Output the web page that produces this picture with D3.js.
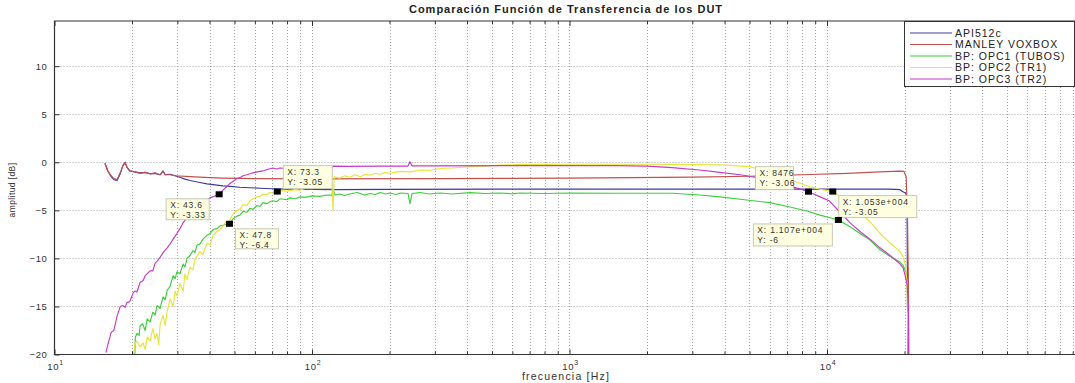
<!DOCTYPE html>
<html>
<head>
<meta charset="utf-8">
<script src="https://cdn.jsdelivr.net/npm/d3@7"></script>
<style>
  body { margin: 0; background: #fff; }
  text { font-family: "Liberation Sans", Arial, sans-serif; }
</style>
</head>
<body>
<svg id="chart" width="1075" height="383"></svg>
<script>
// --- data (frequency [Hz], amplitude [dB]) ---
const seriesNames = ['API512c', 'MANLEY VOXBOX', 'BP: OPC1 (TUBOS)', 'BP: OPC2 (TR1)', 'BP: OPC3 (TR2)'];
const seriesColors = ['#3a3a9e', '#c4504e', '#3ccf3c', '#e6e63a', '#c63cc6'];

const api512c = [[15.7,-0.1],[16.1,-0.9],[16.6,-1.5],[17.0,-1.8],[17.5,-1.9],[18.0,-1.2],[18.4,-0.4],[18.8,0],[19.1,-0.5],
  [19.6,-0.9],[20.5,-1.0],[21.5,-1.1],[22.5,-1.05],[23.5,-1.2],[24.6,-1.15],[25.7,-1.3],[26.4,-0.9],[26.9,-1.3],[28.1,-1.25],
  [29.4,-1.4],[30.7,-1.55],[32.1,-1.75],[33.6,-1.9],[35.1,-2.0],[36.7,-2.1],[39.1,-2.25],[42.0,-2.35],[45.1,-2.45],[48,-2.5],
  [52.5,-2.6],[57.4,-2.65],[62.8,-2.7],[70,-2.75],[80,-2.8],[100,-2.82],[120,-2.85],[200,-2.82],[500,-2.8],[1000,-2.8],
  [3000,-2.8],[8000,-2.8],[12000,-2.8],[17500,-2.8],[19200,-2.85],[19800,-3.1],[20200,-3.2],[20450,-3.6],[20600,-21]];

const manley = [[15.7,-0.1],[16.1,-0.9],[16.6,-1.4],[17.0,-1.7],[17.5,-1.8],[18.0,-1.1],[18.4,-0.4],[18.8,0],[19.1,-0.5],
  [19.6,-0.9],[20.5,-1.0],[21.5,-1.15],[22.5,-1.05],[23.5,-1.2],[24.6,-1.1],[25.7,-1.3],[26.4,-0.95],[26.9,-1.3],[28.1,-1.3],
  [29.4,-1.4],[33.6,-1.5],[40,-1.6],[45,-1.65],[60,-1.7],[100,-1.72],[300,-1.7],[1000,-1.65],[3000,-1.55],[5000,-1.45],
  [8000,-1.3],[12000,-1.15],[16000,-1.0],[19200,-0.92],[19900,-0.95],[20300,-1.5],[20550,-6],[20700,-12],[20800,-21]];

const opc1 = [[20.5,-20.3],[20.6,-18.2],[20.9,-17.8],[21.3,-18.0],[21.5,-17.0],[22.0,-16.8],[22.5,-17.5],[22.9,-16.3],
  [23.5,-16.6],[24.1,-15.6],[24.6,-15.9],[25.0,-14.9],[25.7,-15.2],[26.4,-14.0],[26.9,-14.3],[27.4,-13.3],[28.1,-12.9],
  [28.9,-11.8],[29.4,-12.1],[29.9,-11.4],[30.7,-11.6],[31.6,-10.6],[32.1,-10.9],[32.7,-10.0],[33.6,-9.7],[34.5,-9.2],
  [35.1,-9.4],[35.8,-8.6],[36.7,-8.5],[37.7,-8.0],[39.1,-7.6],[40.2,-7.4],[41.3,-7.0],[42.8,-6.9],[44,-6.6],[45.9,-6.5],
  [47.8,-6.4],[49.3,-5.9],[51.1,-5.6],[52.5,-5.5],[54,-5.1],[55.9,-5.2],[57.4,-4.8],[59,-4.9],[61.1,-4.5],[62.8,-4.6],
  [64.5,-4.2],[66.9,-4.3],[68.7,-4.1],[70.5,-4.0],[73,-4.1],[75,-3.8],[80,-3.9],[82,-3.7],[86,-3.8],[90,-3.6],[94,-3.65],
  [100,-3.5],[107,-3.55],[114,-3.4],[119.5,-3.45],[120.7,-2.8],[122.8,-3.4],[128,-3.3],[134,-3.45],[140,-3.3],[150,-3.15],
  [160,-3.4],[168,-3.25],[176,-3.35],[184,-3.15],[193,-3.3],[201,-3.2],[212,-3.35],[220,-3.2],[236,-3.25],[240,-4.3],
  [244.6,-3.25],[263,-3.15],[285,-3.3],[314,-3.2],[350,-3.3],[411,-3.15],[470,-3.25],[537,-3.2],[600,-3.28],
  [642,-3.2],[800,-3.25],[1000,-3.2],[1500,-3.22],[2520,-3.22],[3200,-3.4],[3840,-3.6],[4600,-3.85],[6000,-4.2],[7180,-4.65],
  [8430,-5.1],[9400,-5.5],[11070,-6.0],[12300,-6.7],[13430,-7.4],[14690,-8.1],[16070,-9.1],[17580,-9.8],[18400,-10.1],
  [19230,-10.4],[19800,-10.8],[20300,-11.5],[20500,-12.5],[20650,-21]];

const opc2 = [[20.2,-20.3],[20.5,-19.0],[20.9,-18.6],[21.5,-19.2],[22.1,-18.8],[22.5,-19.5],[22.9,-18.2],[23.5,-18.6],
  [24.1,-17.3],[24.6,-18.4],[25.0,-17.8],[25.4,-19.0],[25.7,-16.9],[26.4,-15.9],[26.9,-17.0],[27.4,-15.5],[28.1,-14.2],
  [28.9,-15.0],[29.4,-13.4],[29.9,-13.9],[30.7,-12.6],[31.6,-13.4],[32.1,-11.6],[32.7,-12.2],[33.6,-10.9],[34.5,-11.2],
  [35.1,-10.1],[36.7,-9.3],[37.7,-9.6],[39.1,-8.4],[40.2,-8.6],[41.3,-7.6],[42.8,-7.2],[44,-7.0],[45.9,-6.3],[47.8,-6.1],
  [49.3,-5.4],[51.1,-5.0],[52.5,-4.9],[54,-4.4],[55.9,-4.5],[57.4,-4.0],[59,-3.8],[61.1,-3.6],[62.8,-3.55],[64.5,-3.3],
  [66.9,-3.35],[68.7,-3.15],[70.5,-3.2],[73.3,-3.05],[77,-2.95],[80,-3.0],[86,-2.85],[90,-2.9],[94,-2.7],[100,-2.75],
  [107,-2.5],[114,-2.45],[119.5,-2.3],[120.7,-5.0],[122,-1.5],[128,-1.65],[134,-1.4],[140,-1.55],[147,-1.3],[154,-1.5],
  [161,-1.25],[168,-1.35],[176,-1.15],[184,-1.25],[192,-1.05],[201,-1.15],[220,-0.95],[240,-1.0],[263,-0.8],[285,-0.85],
  [314,-0.65],[350,-0.6],[411,-0.45],[470,-0.4],[537,-0.3],[642,-0.25],[1000,-0.2],[2000,-0.2],[3200,-0.25],
  [4000,-0.3],[5000,-0.45],[6000,-1.0],[7180,-1.8],[8430,-2.5],[9400,-2.8],[10530,-3.05],[12300,-4.3],[13430,-5.2],
  [14690,-6.2],[16070,-7.4],[17580,-8.4],[19230,-9.3],[19800,-9.9],[20200,-10.8],[20500,-13],[20700,-21]];

const opc3 = [[15.85,-19.8],[16.1,-19.0],[16.6,-17.7],[17.0,-17.5],[17.5,-16.0],[18.0,-15.0],[18.4,-14.9],[18.8,-15.1],
  [19.1,-14.6],[19.6,-14.5],[20.2,-13.6],[20.5,-13.4],[20.9,-13.5],[21.5,-12.5],[22.1,-12.3],[22.5,-11.8],[23.5,-11.3],
  [24.1,-11.3],[24.6,-10.5],[25.0,-10.3],[25.7,-9.9],[26.4,-9.4],[27.4,-8.9],[28.1,-8.5],[28.9,-8.0],[29.9,-7.4],
  [30.7,-6.9],[31.6,-6.3],[32.7,-5.7],[33.6,-5.2],[35.1,-4.7],[36.7,-4.3],[38.4,-4.0],[40.2,-3.7],[42,-3.5],[43.6,-3.33],
  [45.1,-2.9],[46.8,-2.5],[48,-2.2],[49.3,-2.0],[51.1,-1.7],[52.5,-1.6],[54,-1.4],[55.9,-1.3],[57.4,-1.2],[59,-1.1],
  [61.1,-1.0],[64.5,-0.9],[66.9,-0.75],[70.5,-0.6],[73,-0.7],[75,-0.6],[80,-0.65],[90,-0.6],[100,-0.62],[114,-0.6],
  [119.6,-0.58],[120.7,-0.4],[140,-0.42],[184,-0.4],[236,-0.4],[240,0.05],[244.6,-0.38],[314,-0.38],[537,-0.35],
  [1000,-0.35],[1500,-0.35],[2000,-0.4],[2500,-0.55],[3200,-0.8],[3840,-1.05],[4600,-1.3],[5000,-1.45],[6000,-1.85],
  [7180,-2.45],[8476,-3.06],[9400,-3.6],[10180,-4.0],[11240,-5.2],[12300,-6.3],[13430,-7.2],[14690,-8.0],[16070,-8.9],
  [17580,-9.7],[19230,-10.6],[19760,-11.0],[20120,-11.8],[20500,-12.8],[20600,-14.2],[20650,-15.6],[20700,-14.8],[20750,-21]];

const seriesData = [api512c, manley, opc1, opc2, opc3];

// data tips
const tipFreq = [43.6, 73.3, 47.8, 8476, 10530, 11070];
const tipAmp = [-3.33, -3.05, -6.4, -3.06, -3.05, -6];
const tipXText = ['43.6', '73.3', '47.8', '8476', '1.053e+004', '1.107e+004'];
const tipYText = ['-3.33', '-3.05', '-6.4', '-3.06', '-3.05', '-6'];

const yTicks = [-20, -15, -10, -5, 0, 5, 10];
const xDecades = [10, 100, 1000, 10000];

// --- layout ---
const svg = d3.select('#chart');
svg.append('rect').attr('width', 1075).attr('height', 383).attr('fill', '#fff');

const plotLeft = 54.5, plotTop = 21, plotBottom = 354.5;
const x = d3.scaleLog().domain([10, 1e5]).range([plotLeft, 1084.5]);
const y = d3.scaleLinear().domain([-20, 14.7]).range([plotBottom, plotTop]);

const xMinor = [];
[10, 100, 1000, 10000].forEach(function(d) {
  for (let k = 2; k <= 9; k++) xMinor.push(d * k);
});

// grid
const grid = svg.append('g').attr('stroke', '#999').attr('stroke-dasharray', '1,2').attr('stroke-width', 0.9);
grid.selectAll('.gx').data(xDecades.slice(1).concat(xMinor)).enter().append('line')
  .attr('x1', d => Math.round(x(d)) + 0.5).attr('x2', d => Math.round(x(d)) + 0.5)
  .attr('y1', plotTop).attr('y2', plotBottom);
grid.selectAll('.gy').data(yTicks.slice(1)).enter().append('line')
  .attr('x1', plotLeft).attr('x2', 1075)
  .attr('y1', d => Math.round(y(d)) + 0.5).attr('y2', d => Math.round(y(d)) + 0.5);

// lines
svg.append('clipPath').attr('id', 'clip').append('rect')
  .attr('x', plotLeft).attr('y', plotTop).attr('width', 1075 - plotLeft).attr('height', plotBottom - plotTop);

const line = d3.line().x(d => x(d[0])).y(d => y(d[1]));
svg.append('g').attr('clip-path', 'url(#clip)')
  .selectAll('path').data(seriesData).enter().append('path')
  .attr('d', line)
  .attr('fill', 'none')
  .attr('stroke', (d, i) => seriesColors[i])
  .attr('stroke-width', 1.15)
  .attr('stroke-linejoin', 'round');

// axes
const axisG = svg.append('g');
axisG.append('g').attr('transform', 'translate(0,' + plotBottom + ')')
  .call(d3.axisBottom(x).tickValues(xDecades).tickSize(-5).tickFormat(''))
  .select('.domain').remove();
axisG.append('g').attr('transform', 'translate(0,' + plotBottom + ')')
  .call(d3.axisBottom(x).tickValues(xMinor).tickSize(-3).tickFormat(''))
  .select('.domain').remove();
axisG.append('g').attr('transform', 'translate(0,' + plotTop + ')')
  .call(d3.axisTop(x).tickValues(xDecades).tickSize(-5).tickFormat(''))
  .select('.domain').remove();
axisG.append('g').attr('transform', 'translate(0,' + plotTop + ')')
  .call(d3.axisTop(x).tickValues(xMinor).tickSize(-3).tickFormat(''))
  .select('.domain').remove();
const yAxis = axisG.append('g').attr('transform', 'translate(' + plotLeft + ',0)')
  .call(d3.axisLeft(y).tickValues(yTicks).tickSize(-5).tickPadding(7));
yAxis.select('.domain').remove();
yAxis.selectAll('text').attr('font-size', 9.5).attr('fill', '#333').attr('letter-spacing', 0.6)
  .attr('font-family', '"Liberation Sans", Arial, sans-serif');
axisG.selectAll('.tick line').attr('stroke', '#333');

// x decade labels as 10^n
xDecades.forEach(function(d) {
  const t = svg.append('text').attr('x', x(d) + 1).attr('y', 370)
    .attr('text-anchor', 'middle').attr('font-size', 9.5).attr('fill', '#333').attr('letter-spacing', 0.6);
  t.append('tspan').text('10');
  t.append('tspan').attr('dy', -5).attr('font-size', 7).text(Math.round(Math.log10(d)));
});

// frame
svg.append('path')
  .attr('d', 'M1075,' + plotTop + 'H' + plotLeft + 'V' + plotBottom + 'H1075')
  .attr('fill', 'none').attr('stroke', '#333').attr('stroke-width', 1.2);

// data tips
const tips = svg.append('g');
const tipOffsets = [[-53, 4.5, 43, 21], [6, -26, 49, 23], [6, 5, 43, 20], [-53, -25, 38, 23], [6, 4, 78, 22], [-85, 4, 79, 22]];
tipFreq.forEach(function(f, i) {
  const mx = x(f), my = y(tipAmp[i]);
  const o = tipOffsets[i];
  tips.append('rect').attr('x', mx + o[0]).attr('y', my + o[1]).attr('width', o[2]).attr('height', o[3])
    .attr('fill', '#ffffe1').attr('stroke', '#c8c8b4').attr('stroke-width', 1);
  tips.append('text').attr('x', mx + o[0] + 4).attr('y', my + o[1] + 9.5)
    .attr('font-size', 8.5).attr('letter-spacing', 0.8).attr('fill', '#333').text('X: ' + tipXText[i]);
  tips.append('text').attr('x', mx + o[0] + 4).attr('y', my + o[1] + 19)
    .attr('font-size', 8.5).attr('letter-spacing', 0.8).attr('fill', '#333').text('Y: ' + tipYText[i]);
  tips.append('rect').attr('x', mx - 3.5).attr('y', my - 3).attr('width', 7).attr('height', 6).attr('fill', '#000');
});

// legend
const lg = svg.append('g');
lg.append('rect').attr('x', 904.5).attr('y', 21.5).attr('width', 170).attr('height', 65)
  .attr('fill', '#fff').attr('stroke', '#333').attr('stroke-width', 1);
seriesNames.forEach(function(name, i) {
  const ly = 33 + i * 11.5;
  lg.append('line').attr('x1', 910).attr('x2', 952).attr('y1', ly).attr('y2', ly)
    .attr('stroke', seriesColors[i]).attr('stroke-width', 1);
  lg.append('text').attr('x', 955).attr('y', ly + 3.5).attr('font-size', 10.5).attr('letter-spacing', 1)
    .attr('fill', '#222').text(name);
});

// titles
svg.append('text').attr('x', 566).attr('y', 13).attr('text-anchor', 'middle')
  .attr('font-size', 11).attr('font-weight', 'bold').attr('letter-spacing', 1).attr('fill', '#222')
  .text('Comparación Función de Transferencia de los DUT');
svg.append('text').attr('x', 566).attr('y', 380).attr('text-anchor', 'middle')
  .attr('font-size', 10.5).attr('letter-spacing', 1.2).attr('fill', '#333').text('frecuencia [Hz]');
svg.append('text').attr('transform', 'translate(15,190) rotate(-90)').attr('text-anchor', 'middle')
  .attr('font-size', 8.5).attr('letter-spacing', 0.4).attr('fill', '#333').text('amplitud [dB]');
</script>
</body>
</html>
